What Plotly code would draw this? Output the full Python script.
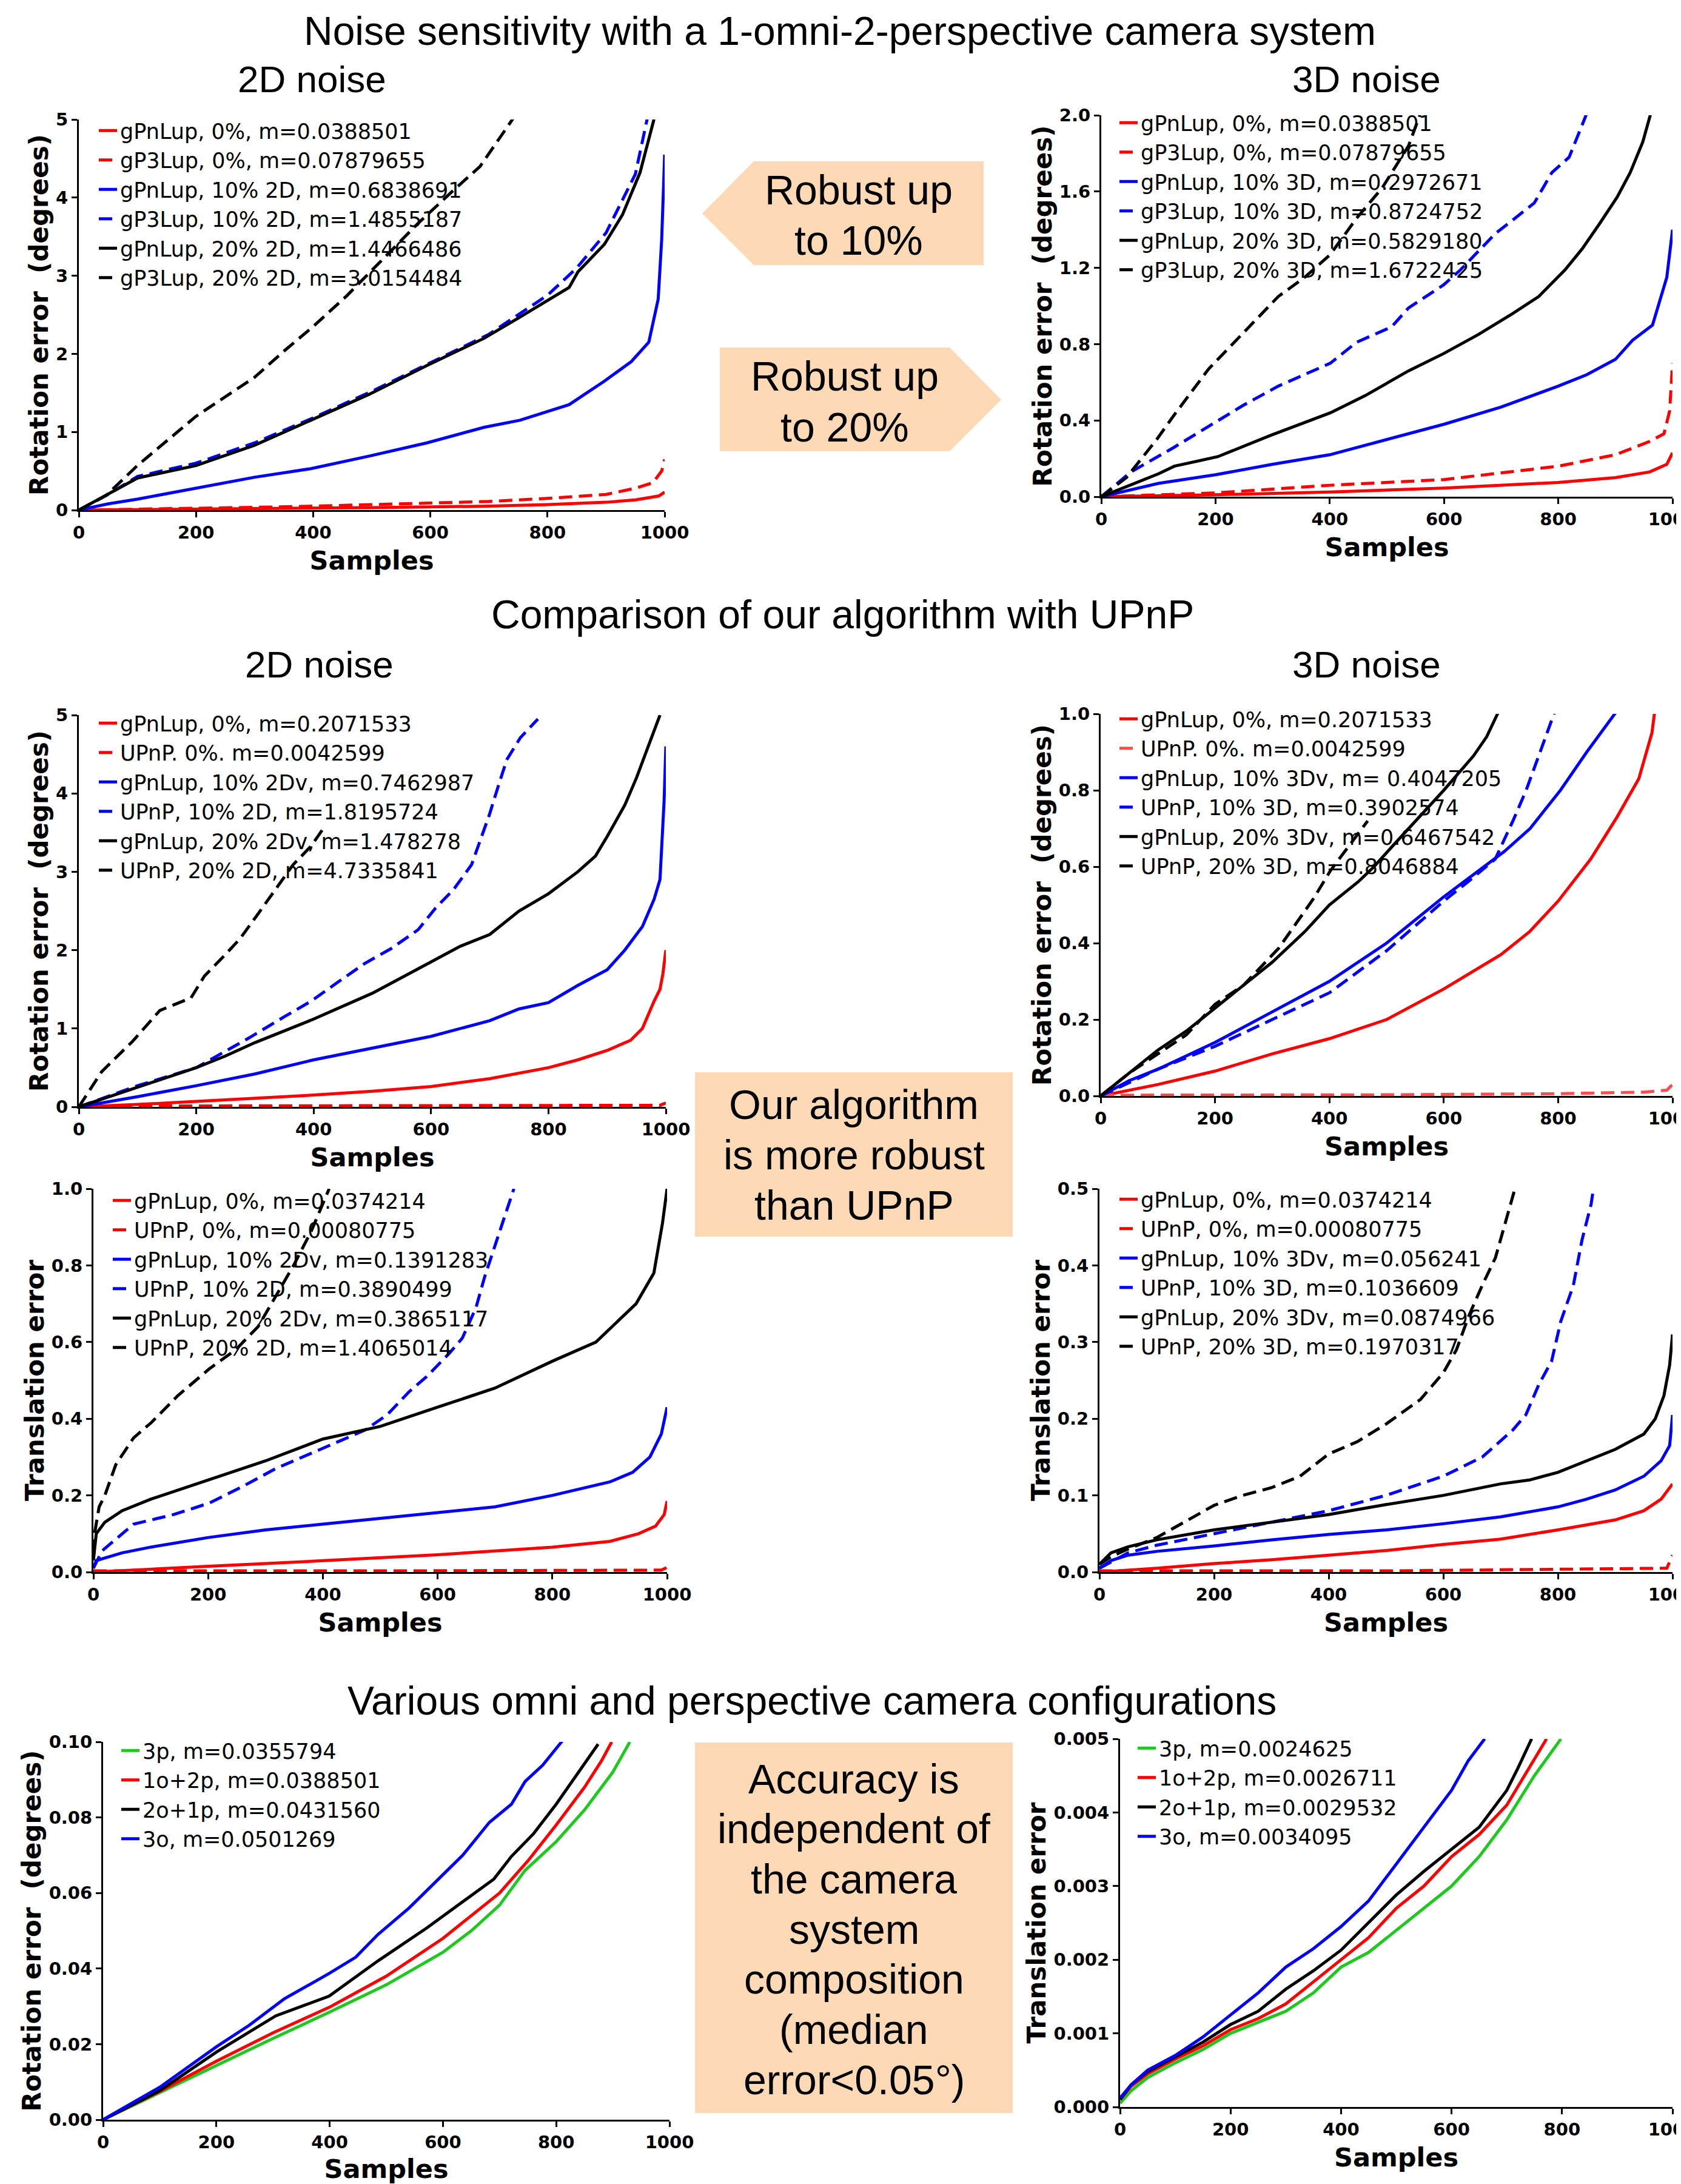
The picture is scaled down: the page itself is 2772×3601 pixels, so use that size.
import plotly.graph_objects as go

W, H = 2772, 3601          # browser window
OFF = 8                    # default page margin around the plot div
WF, HF = W - OFF, H - OFF  # figure size
FONT = "Liberation Sans, Arial, sans-serif"
PFONT = "DejaVu Sans, Liberation Sans, sans-serif"
RED, BLUE, BLACK, GREEN, LRED = "#FF0000", "#0000FF", "#000000", "#1EC81E", "#FF4D4D"
DASH = "22px,11px"
PEACH = "#FDD9B5"

x_ticks = [0, 200, 400, 600, 800, 1000]

# ---------------- Panel 1: 2D noise, rotation (gPnLup vs gP3Lup) ----------------
p1_gpn0_s = [0, 100, 200, 300, 400, 500, 600, 700, 800, 900, 950, 990, 1000]
p1_gpn0_v = [0, 0.005, 0.01, 0.018, 0.025, 0.032, 0.04, 0.05, 0.07, 0.1, 0.13, 0.18, 0.23]
p1_gp30_s = [0, 100, 200, 300, 400, 500, 600, 700, 800, 900, 950, 980, 995, 1000]
p1_gp30_v = [0, 0.01, 0.02, 0.035, 0.05, 0.07, 0.09, 0.11, 0.15, 0.2, 0.28, 0.35, 0.5, 0.65]
p1_gpn10_s = [0, 50, 100, 200, 300, 396, 495, 594, 692, 753, 837, 897, 943, 973, 989, 995, 1000]
p1_gpn10_v = [0, 0.08, 0.14, 0.28, 0.42, 0.53, 0.69, 0.86, 1.06, 1.15, 1.35, 1.65, 1.9, 2.15, 2.7, 3.47, 4.55]
p1_gp310_s = [0, 50, 100, 200, 300, 400, 500, 600, 700, 800, 850, 900, 950, 970, 985]
p1_gp310_v = [0, 0.2, 0.43, 0.6, 0.86, 1.18, 1.52, 1.88, 2.25, 2.75, 3.1, 3.55, 4.3, 5.0, 5.3]
p1_gpn20_s = [0, 50, 100, 200, 300, 396, 495, 594, 692, 753, 837, 852, 897, 928, 958, 981, 990]
p1_gpn20_v = [0, 0.2, 0.41, 0.57, 0.83, 1.15, 1.48, 1.85, 2.2, 2.47, 2.85, 3.05, 3.4, 3.78, 4.32, 4.98, 5.3]
p1_gp320_s = [0, 47, 100, 169, 200, 250, 300, 351, 400, 457, 518, 579, 639, 685, 742, 760]
p1_gp320_v = [0, 0.19, 0.57, 1.0, 1.2, 1.45, 1.7, 2.04, 2.35, 2.74, 3.2, 3.67, 4.09, 4.4, 5.02, 5.2]

# ---------------- Panel 2: 3D noise, rotation ----------------
p2_gpn0_s = [0, 200, 400, 600, 800, 900, 960, 990, 1000]
p2_gpn0_v = [0, 0.01, 0.025, 0.045, 0.075, 0.1, 0.13, 0.17, 0.23]
p2_gp30_s = [0, 200, 400, 600, 800, 900, 960, 985, 995, 1000]
p2_gp30_v = [0, 0.02, 0.06, 0.09, 0.16, 0.22, 0.29, 0.33, 0.45, 0.70]
p2_gpn10_s = [0, 100, 200, 300, 400, 500, 600, 700, 800, 850, 900, 930, 965, 975, 990, 1000]
p2_gpn10_v = [0, 0.07, 0.115, 0.17, 0.22, 0.3, 0.38, 0.47, 0.58, 0.64, 0.72, 0.82, 0.9, 1.0, 1.15, 1.4]
p2_gp310_s = [0, 52, 128, 188, 249, 310, 401, 447, 508, 538, 599, 629, 690, 720, 758, 789, 819, 846, 855]
p2_gp310_v = [0, 0.13, 0.26, 0.37, 0.48, 0.58, 0.70, 0.81, 0.89, 0.99, 1.11, 1.19, 1.38, 1.45, 1.54, 1.70, 1.78, 1.98, 2.05]
p2_gpn20_s = [0, 50, 100, 128, 204, 295, 401, 462, 538, 599, 660, 720, 766, 812, 842, 872, 903, 926, 948, 961, 965]
p2_gpn20_v = [0, 0.06, 0.12, 0.16, 0.21, 0.32, 0.44, 0.53, 0.66, 0.75, 0.85, 0.96, 1.05, 1.19, 1.30, 1.43, 1.57, 1.70, 1.86, 2.0, 2.05]
p2_gp320_s = [0, 44, 97, 128, 188, 249, 310, 356, 401, 447, 492, 538, 560]
p2_gp320_v = [0, 0.10, 0.30, 0.43, 0.67, 0.86, 1.05, 1.15, 1.27, 1.46, 1.62, 1.84, 2.02]

# ---------------- Panel 3: 2D noise, rotation vs UPnP ----------------
p3_gpn0_s = [0, 100, 200, 300, 400, 500, 600, 700, 800, 850, 900, 940, 960, 980, 990, 995, 1000]
p3_gpn0_v = [0, 0.03, 0.07, 0.11, 0.15, 0.2, 0.26, 0.36, 0.5, 0.6, 0.72, 0.85, 1.0, 1.35, 1.5, 1.7, 2.0]
p3_up0_s = [0, 500, 900, 990, 1000]
p3_up0_v = [0.01, 0.012, 0.015, 0.02, 0.05]
p3_gpn10_s = [0, 100, 200, 300, 400, 500, 600, 700, 750, 800, 850, 900, 930, 960, 980, 990, 993, 997, 1000]
p3_gpn10_v = [0, 0.13, 0.27, 0.42, 0.6, 0.75, 0.9, 1.1, 1.25, 1.33, 1.55, 1.75, 2.0, 2.3, 2.65, 2.9, 3.3, 3.9, 4.6]
p3_up10_s = [0, 100, 200, 290, 350, 396, 441, 487, 532, 578, 608, 638, 669, 684, 699, 714, 729, 752, 782]
p3_up10_v = [0, 0.27, 0.5, 0.88, 1.15, 1.35, 1.59, 1.83, 2.02, 2.26, 2.54, 2.77, 3.09, 3.41, 3.72, 4.08, 4.43, 4.71, 4.95]
p3_gpn20_s = [0, 100, 200, 250, 300, 400, 500, 600, 650, 700, 750, 800, 850, 880, 900, 930, 950, 970, 990]
p3_gpn20_v = [0, 0.25, 0.5, 0.65, 0.82, 1.12, 1.45, 1.85, 2.05, 2.2, 2.5, 2.72, 3.0, 3.2, 3.45, 3.85, 4.2, 4.6, 5.0]
p3_up20_s = [0, 10, 39, 92, 138, 191, 214, 244, 274, 305, 335, 365, 396, 418]
p3_up20_v = [0, 0.12, 0.45, 0.84, 1.23, 1.39, 1.67, 1.9, 2.14, 2.46, 2.77, 3.09, 3.33, 3.57]

# ---------------- Panel 4: 3D noise, rotation vs UPnP ----------------
p4_gpn0_s = [0, 100, 200, 300, 400, 500, 600, 700, 750, 800, 857, 903, 941, 964, 970]
p4_gpn0_v = [0, 0.03, 0.065, 0.11, 0.15, 0.2, 0.28, 0.37, 0.43, 0.51, 0.62, 0.73, 0.83, 0.95, 1.02]
p4_up0_s = [0, 500, 800, 950, 990, 1000]
p4_up0_v = [0.002, 0.003, 0.006, 0.01, 0.015, 0.03]
p4_gpn10_s = [0, 50, 100, 200, 300, 400, 500, 599, 706, 751, 804, 850, 899, 910]
p4_gpn10_v = [0, 0.04, 0.07, 0.14, 0.22, 0.3, 0.4, 0.52, 0.64, 0.70, 0.80, 0.9, 1.0, 1.02]
p4_up10_s = [0, 100, 200, 300, 400, 500, 600, 650, 690, 721, 744, 766, 793, 800]
p4_up10_v = [0, 0.07, 0.13, 0.2, 0.27, 0.38, 0.51, 0.57, 0.62, 0.72, 0.80, 0.89, 1.0, 1.03]
p4_gpn20_s = [0, 50, 100, 150, 200, 300, 357, 400, 450, 478, 508, 539, 600, 652, 675, 694, 700]
p4_gpn20_v = [0, 0.06, 0.12, 0.17, 0.23, 0.35, 0.43, 0.5, 0.56, 0.6, 0.65, 0.70, 0.80, 0.89, 0.94, 1.0, 1.02]
p4_up20_s = [0, 50, 100, 150, 200, 250, 311, 372, 402, 432, 467]
p4_up20_v = [0, 0.06, 0.11, 0.16, 0.24, 0.29, 0.386, 0.516, 0.59, 0.65, 0.72]

# ---------------- Panel 5: 2D noise, translation vs UPnP ----------------
p5_gpn0_s = [0, 100, 200, 300, 400, 500, 600, 700, 800, 900, 950, 980, 995, 1000]
p5_gpn0_v = [0, 0.008, 0.015, 0.022, 0.03, 0.038, 0.045, 0.055, 0.065, 0.08, 0.1, 0.12, 0.15, 0.185]
p5_up0_s = [0, 500, 990, 1000]
p5_up0_v = [0.003, 0.003, 0.005, 0.012]
p5_gpn10_s = [0, 5, 50, 100, 200, 300, 400, 500, 600, 700, 800, 900, 940, 970, 990, 1000]
p5_gpn10_v = [0.01, 0.03, 0.05, 0.065, 0.09, 0.11, 0.125, 0.14, 0.155, 0.17, 0.2, 0.235, 0.26, 0.3, 0.36, 0.43]
p5_up10_s = [0, 15, 70, 140, 202, 256, 318, 380, 426, 473, 512, 550, 581, 620, 643, 667, 682, 698, 713, 733]
p5_up10_v = [0.01, 0.055, 0.125, 0.15, 0.18, 0.22, 0.27, 0.31, 0.34, 0.37, 0.41, 0.47, 0.51, 0.57, 0.61, 0.69, 0.77, 0.84, 0.91, 1.0]
p5_gpn20_s = [0, 5, 20, 50, 100, 200, 300, 400, 500, 600, 700, 800, 876, 946, 977, 992, 1000]
p5_gpn20_v = [0.03, 0.1, 0.13, 0.16, 0.19, 0.24, 0.29, 0.347, 0.38, 0.43, 0.48, 0.55, 0.6, 0.70, 0.78, 0.91, 1.0]
p5_up20_s = [0, 2, 10, 20, 39, 70, 101, 147, 202, 248, 287, 318, 349, 380, 411]
p5_up20_v = [0.05, 0.1, 0.17, 0.2, 0.28, 0.35, 0.39, 0.46, 0.53, 0.58, 0.64, 0.72, 0.80, 0.89, 1.0]

# ---------------- Panel 6: 3D noise, translation vs UPnP ----------------
p6_gpn0_s = [0, 100, 200, 300, 400, 500, 600, 700, 800, 900, 950, 980, 1000]
p6_gpn0_v = [0, 0.005, 0.011, 0.016, 0.022, 0.028, 0.036, 0.043, 0.055, 0.068, 0.08, 0.095, 0.115]
p6_up0_s = [0, 500, 990, 1000]
p6_up0_v = [0.0015, 0.0015, 0.005, 0.022]
p6_gpn10_s = [0, 20, 50, 100, 200, 300, 400, 500, 600, 700, 800, 850, 900, 950, 980, 995, 1000]
p6_gpn10_v = [0.005, 0.015, 0.022, 0.027, 0.034, 0.042, 0.049, 0.055, 0.063, 0.072, 0.085, 0.095, 0.107, 0.125, 0.145, 0.165, 0.205]
p6_up10_s = [0, 50, 100, 200, 300, 400, 500, 600, 668, 721, 744, 767, 789, 805, 827, 842, 858, 862]
p6_up10_v = [0.005, 0.025, 0.035, 0.05, 0.065, 0.08, 0.1, 0.125, 0.15, 0.185, 0.205, 0.245, 0.275, 0.327, 0.374, 0.433, 0.48, 0.5]
p6_gpn20_s = [0, 20, 50, 100, 200, 300, 400, 500, 600, 700, 750, 800, 850, 900, 950, 970, 985, 995, 1000]
p6_gpn20_v = [0.01, 0.025, 0.033, 0.042, 0.055, 0.065, 0.075, 0.088, 0.1, 0.115, 0.12, 0.13, 0.145, 0.16, 0.18, 0.2, 0.23, 0.27, 0.31]
p6_up20_s = [0, 20, 50, 100, 200, 250, 300, 350, 400, 450, 500, 560, 600, 623, 645, 668, 691, 706, 725]
p6_up20_v = [0.01, 0.02, 0.03, 0.045, 0.087, 0.1, 0.11, 0.125, 0.154, 0.17, 0.193, 0.225, 0.26, 0.29, 0.335, 0.374, 0.41, 0.45, 0.5]

# ---------------- Panel 7: camera configurations, rotation ----------------
p7_3p_s = [0, 100, 200, 300, 400, 500, 600, 650, 700, 745, 800, 850, 900, 930]
p7_3p_v = [0, 0.0072, 0.0145, 0.0215, 0.0285, 0.0357, 0.0443, 0.05, 0.0568, 0.066, 0.0736, 0.082, 0.092, 0.1]
p7_1o2p_s = [0, 100, 200, 300, 400, 500, 600, 700, 750, 800, 850, 880, 898]
p7_1o2p_v = [0, 0.0075, 0.0155, 0.023, 0.0298, 0.038, 0.048, 0.06, 0.0685, 0.078, 0.088, 0.095, 0.1]
p7_2o1p_s = [0, 100, 201, 305, 399, 485, 572, 643, 690, 721, 760, 800, 839, 874]
p7_2o1p_v = [0, 0.0077, 0.018, 0.0275, 0.0327, 0.042, 0.0508, 0.0585, 0.0637, 0.0697, 0.0757, 0.0835, 0.092, 0.0994]
p7_3o_s = [0, 100, 201, 258, 320, 399, 446, 485, 540, 588, 635, 682, 721, 745, 776, 811]
p7_3o_v = [0, 0.0086, 0.0194, 0.025, 0.032, 0.0387, 0.043, 0.049, 0.056, 0.063, 0.070, 0.0787, 0.0835, 0.0895, 0.0938, 0.1003]

# ---------------- Panel 8: camera configurations, translation ----------------
p8_3p_s = [0, 20, 50, 100, 150, 200, 250, 300, 350, 400, 450, 500, 550, 600, 650, 680, 700, 750, 798]
p8_3p_v = [0.00005, 0.00022, 0.0004, 0.0006, 0.00078, 0.001, 0.00115, 0.0013, 0.00155, 0.0019, 0.0021, 0.0024, 0.0027, 0.003, 0.0034, 0.0037, 0.0039, 0.0045, 0.005]
p8_1o2p_s = [0, 20, 50, 100, 150, 200, 250, 300, 350, 400, 450, 500, 550, 600, 650, 700, 740, 772]
p8_1o2p_v = [0.0001, 0.00028, 0.00045, 0.00065, 0.00083, 0.00105, 0.0012, 0.0014, 0.0017, 0.002, 0.0023, 0.0027, 0.003, 0.0034, 0.0037, 0.0041, 0.0046, 0.005]
p8_2o1p_s = [0, 20, 50, 100, 150, 200, 250, 300, 350, 400, 450, 500, 550, 600, 650, 680, 700, 720, 745]
p8_2o1p_v = [0.0001, 0.0003, 0.00048, 0.00068, 0.00088, 0.00112, 0.0013, 0.0016, 0.00185, 0.00213, 0.0025, 0.00288, 0.0032, 0.0035, 0.0038, 0.0041, 0.0043, 0.0046, 0.005]
p8_3o_s = [0, 20, 50, 100, 150, 200, 250, 300, 350, 400, 450, 500, 550, 600, 630, 660]
p8_3o_v = [0.00012, 0.0003, 0.0005, 0.0007, 0.00095, 0.00125, 0.00155, 0.0019, 0.00215, 0.00245, 0.0028, 0.0033, 0.0038, 0.0043, 0.0047, 0.005]

# series tables: (legend label, colour, dashed?, samples, errors)
series = {
    1: [("gPnLup, 0%, m=0.0388501", RED, False, p1_gpn0_s, p1_gpn0_v),
        ("gP3Lup, 0%, m=0.07879655", RED, True, p1_gp30_s, p1_gp30_v),
        ("gPnLup, 10% 2D, m=0.6838691", BLUE, False, p1_gpn10_s, p1_gpn10_v),
        ("gP3Lup, 10% 2D, m=1.4855187", BLUE, True, p1_gp310_s, p1_gp310_v),
        ("gPnLup, 20% 2D, m=1.4466486", BLACK, False, p1_gpn20_s, p1_gpn20_v),
        ("gP3Lup, 20% 2D, m=3.0154484", BLACK, True, p1_gp320_s, p1_gp320_v)],
    2: [("gPnLup, 0%, m=0.0388501", RED, False, p2_gpn0_s, p2_gpn0_v),
        ("gP3Lup, 0%, m=0.07879655", RED, True, p2_gp30_s, p2_gp30_v),
        ("gPnLup, 10% 3D, m=0.2972671", BLUE, False, p2_gpn10_s, p2_gpn10_v),
        ("gP3Lup, 10% 3D, m=0.8724752", BLUE, True, p2_gp310_s, p2_gp310_v),
        ("gPnLup, 20% 3D, m=0.5829180", BLACK, False, p2_gpn20_s, p2_gpn20_v),
        ("gP3Lup, 20% 3D, m=1.6722425", BLACK, True, p2_gp320_s, p2_gp320_v)],
    3: [("gPnLup, 0%, m=0.2071533", RED, False, p3_gpn0_s, p3_gpn0_v),
        ("UPnP. 0%. m=0.0042599", RED, True, p3_up0_s, p3_up0_v),
        ("gPnLup, 10% 2Dv, m=0.7462987", BLUE, False, p3_gpn10_s, p3_gpn10_v),
        ("UPnP, 10% 2D, m=1.8195724", BLUE, True, p3_up10_s, p3_up10_v),
        ("gPnLup, 20% 2Dv, m=1.478278", BLACK, False, p3_gpn20_s, p3_gpn20_v),
        ("UPnP, 20% 2D, m=4.7335841", BLACK, True, p3_up20_s, p3_up20_v)],
    4: [("gPnLup, 0%, m=0.2071533", RED, False, p4_gpn0_s, p4_gpn0_v),
        ("UPnP. 0%. m=0.0042599", LRED, True, p4_up0_s, p4_up0_v),
        ("gPnLup, 10% 3Dv, m= 0.4047205", BLUE, False, p4_gpn10_s, p4_gpn10_v),
        ("UPnP, 10% 3D, m=0.3902574", BLUE, True, p4_up10_s, p4_up10_v),
        ("gPnLup, 20% 3Dv, m=0.6467542", BLACK, False, p4_gpn20_s, p4_gpn20_v),
        ("UPnP, 20% 3D, m=0.8046884", BLACK, True, p4_up20_s, p4_up20_v)],
    5: [("gPnLup, 0%, m=0.0374214", RED, False, p5_gpn0_s, p5_gpn0_v),
        ("UPnP, 0%, m=0.00080775", RED, True, p5_up0_s, p5_up0_v),
        ("gPnLup, 10% 2Dv, m=0.1391283", BLUE, False, p5_gpn10_s, p5_gpn10_v),
        ("UPnP, 10% 2D, m=0.3890499", BLUE, True, p5_up10_s, p5_up10_v),
        ("gPnLup, 20% 2Dv, m=0.3865117", BLACK, False, p5_gpn20_s, p5_gpn20_v),
        ("UPnP, 20% 2D, m=1.4065014", BLACK, True, p5_up20_s, p5_up20_v)],
    6: [("gPnLup, 0%, m=0.0374214", RED, False, p6_gpn0_s, p6_gpn0_v),
        ("UPnP, 0%, m=0.00080775", RED, True, p6_up0_s, p6_up0_v),
        ("gPnLup, 10% 3Dv, m=0.056241", BLUE, False, p6_gpn10_s, p6_gpn10_v),
        ("UPnP, 10% 3D, m=0.1036609", BLUE, True, p6_up10_s, p6_up10_v),
        ("gPnLup, 20% 3Dv, m=0.0874966", BLACK, False, p6_gpn20_s, p6_gpn20_v),
        ("UPnP, 20% 3D, m=0.1970317", BLACK, True, p6_up20_s, p6_up20_v)],
    7: [("3p, m=0.0355794", GREEN, False, p7_3p_s, p7_3p_v),
        ("1o+2p, m=0.0388501", RED, False, p7_1o2p_s, p7_1o2p_v),
        ("2o+1p, m=0.0431560", BLACK, False, p7_2o1p_s, p7_2o1p_v),
        ("3o, m=0.0501269", BLUE, False, p7_3o_s, p7_3o_v)],
    8: [("3p, m=0.0024625", GREEN, False, p8_3p_s, p8_3p_v),
        ("1o+2p, m=0.0026711", RED, False, p8_1o2p_s, p8_1o2p_v),
        ("2o+1p, m=0.0029532", BLACK, False, p8_2o1p_s, p8_2o1p_v),
        ("3o, m=0.0034095", BLUE, False, p8_3o_s, p8_3o_v)],
}

ROT = "Rotation error \u00a0(degrees)"
TRA = "Translation error"
# panel layout (window-pixel boxes of the plotting areas, y ticks, y title, legend corner)
panels = {
    1: dict(xpx=(130, 1096), ypx=(197, 841), yr=5, yt=[0, 1, 2, 3, 4, 5], fmt="d", title=ROT, leg=(158, 186)),
    2: dict(xpx=(1816, 2758), ypx=(190, 819), yr=2.0, yt=[0, 0.4, 0.8, 1.2, 1.6, 2.0], fmt=".1f", title=ROT, leg=(1841, 173)),
    3: dict(xpx=(130, 1098), ypx=(1179, 1825), yr=5, yt=[0, 1, 2, 3, 4, 5], fmt="d", title=ROT, leg=(158, 1163)),
    4: dict(xpx=(1815, 2758), ypx=(1177, 1807), yr=1.0, yt=[0, 0.2, 0.4, 0.6, 0.8, 1.0], fmt=".1f", title=ROT, leg=(1841, 1156)),
    5: dict(xpx=(154, 1100), ypx=(1960, 2592), yr=1.0, yt=[0, 0.2, 0.4, 0.6, 0.8, 1.0], fmt=".1f", title=TRA, leg=(181, 1950)),
    6: dict(xpx=(1813, 2758), ypx=(1960, 2592), yr=0.5, yt=[0, 0.1, 0.2, 0.3, 0.4, 0.5], fmt=".1f", title=TRA, leg=(1841, 1948)),
    7: dict(xpx=(170, 1104), ypx=(2872, 3495), yr=0.10, yt=[0, 0.02, 0.04, 0.06, 0.08, 0.10], fmt=".2f", title=ROT, leg=(195, 2857)),
    8: dict(xpx=(1847, 2758), ypx=(2867, 3474), yr=0.005, yt=[0, 0.001, 0.002, 0.003, 0.004, 0.005], fmt=".3f", title=TRA, leg=(1871, 2853)),
}


def fx(px):
    return (px - OFF) / WF


def fy(py):
    return 1 - (py - OFF) / HF


fig = go.Figure()
layout = {}
for i, p in panels.items():
    sfx = "" if i == 1 else str(i)
    leg = "legend" if i == 1 else f"legend{i}"
    for label, col, dashed, s, v in series[i]:
        fig.add_trace(go.Scatter(
            x=s, y=v, mode="lines", name=label,
            line=dict(color=col, width=5, dash=DASH if dashed else "solid"),
            xaxis="x" + sfx, yaxis="y" + sfx, legend=leg))
    axcommon = dict(showgrid=False, zeroline=False, showline=True, linecolor="black", linewidth=3,
                    ticks="outside", ticklen=9, tickwidth=3, tickcolor="black", automargin=False,
                    tickfont=dict(family=PFONT, size=29, color="black", weight="bold"))
    layout["xaxis" + sfx] = dict(
        domain=[fx(p["xpx"][0]), fx(p["xpx"][1])], range=[0, 1000], anchor="y" + sfx,
        tickmode="array", tickvals=x_ticks, tickformat="d", ticklabeloverflow="allow",
        title=dict(text="Samples", font=dict(family=PFONT, size=43, color="black", weight="bold"), standoff=16),
        **axcommon)
    layout["yaxis" + sfx] = dict(
        domain=[fy(p["ypx"][1]), fy(p["ypx"][0])], range=[0, p["yr"]], anchor="x" + sfx,
        tickmode="array", tickvals=p["yt"], tickformat=p["fmt"],
        title=dict(text=p["title"], font=dict(family=PFONT, size=42, color="black", weight="bold"), standoff=0),
        **axcommon)
    layout[leg] = dict(x=fx(p["leg"][0]), y=fy(p["leg"][1]), xanchor="left", yanchor="top",
                       bgcolor="rgba(0,0,0,0)", borderwidth=0, tracegroupgap=0, itemwidth=30,
                       font=dict(family=PFONT, size=35, color="black"))

fig.update_layout(**layout)

annotations = []
# section titles
titles = [
    ("Noise sensitivity with a 1-omni-2-perspective camera system", 1385, 51, 66),
    ("2D noise", 515, 131, 62), ("3D noise", 2253, 131, 62),
    ("Comparison of our algorithm with UPnP", 1389, 1013, 66),
    ("2D noise", 526, 1095, 62), ("3D noise", 2253, 1095, 62),
    ("Various omni and perspective camera configurations", 1339, 2804, 66),
]
for t, x, y, fs in titles:
    annotations.append(dict(text=t, x=fx(x), y=fy(y), xref="paper", yref="paper", showarrow=False,
                            xanchor="center", yanchor="middle",
                            font=dict(family=FONT, size=fs, color="black")))

# callout boxes
def path(points):
    return "M " + " L ".join(f"{fx(a):.5f},{fy(b):.5f}" for a, b in points) + " Z"

boxes = [
    [(1158, 352), (1243, 266), (1622, 266), (1622, 437), (1243, 437)],
    [(1187, 573), (1566, 573), (1651, 659), (1566, 744), (1187, 744)],
    [(1146, 1768), (1670, 1768), (1670, 2039), (1146, 2039)],
    [(1146, 2873), (1670, 2873), (1670, 3484), (1146, 3484)],
]
shapes = [dict(type="path", path=path(b), xref="paper", yref="paper",
               fillcolor=PEACH, line=dict(width=0), layer="below") for b in boxes]

# callout text lines: (text, x centre, y centre)
box_lines = [
    ("Robust up", 1416, 313), ("to 10%", 1416, 396),
    ("Robust up", 1393, 620), ("to 20%", 1393, 704),
    ("Our algorithm", 1408, 1821), ("is more robust", 1408, 1904), ("than UPnP", 1408, 1987),
    ("Accuracy is", 1408, 2933), ("independent of", 1408, 3015), ("the camera", 1408, 3098),
    ("system", 1408, 3181), ("composition", 1408, 3263), ("(median", 1408, 3346),
    ("error&lt;0.05°)", 1408, 3429),
]
for t, x, y in box_lines:
    annotations.append(dict(text=t, x=fx(x), y=fy(y), xref="paper", yref="paper", showarrow=False,
                            xanchor="center", yanchor="middle", align="center",
                            font=dict(family=FONT, size=68, color="black")))

fig.update_layout(
    width=WF, height=HF, margin=dict(l=0, r=0, t=0, b=0, autoexpand=False),
    paper_bgcolor="white", plot_bgcolor="white",
    font=dict(family=FONT, color="black"),
    annotations=annotations, shapes=shapes,
)

fig.write_html("out.html")
